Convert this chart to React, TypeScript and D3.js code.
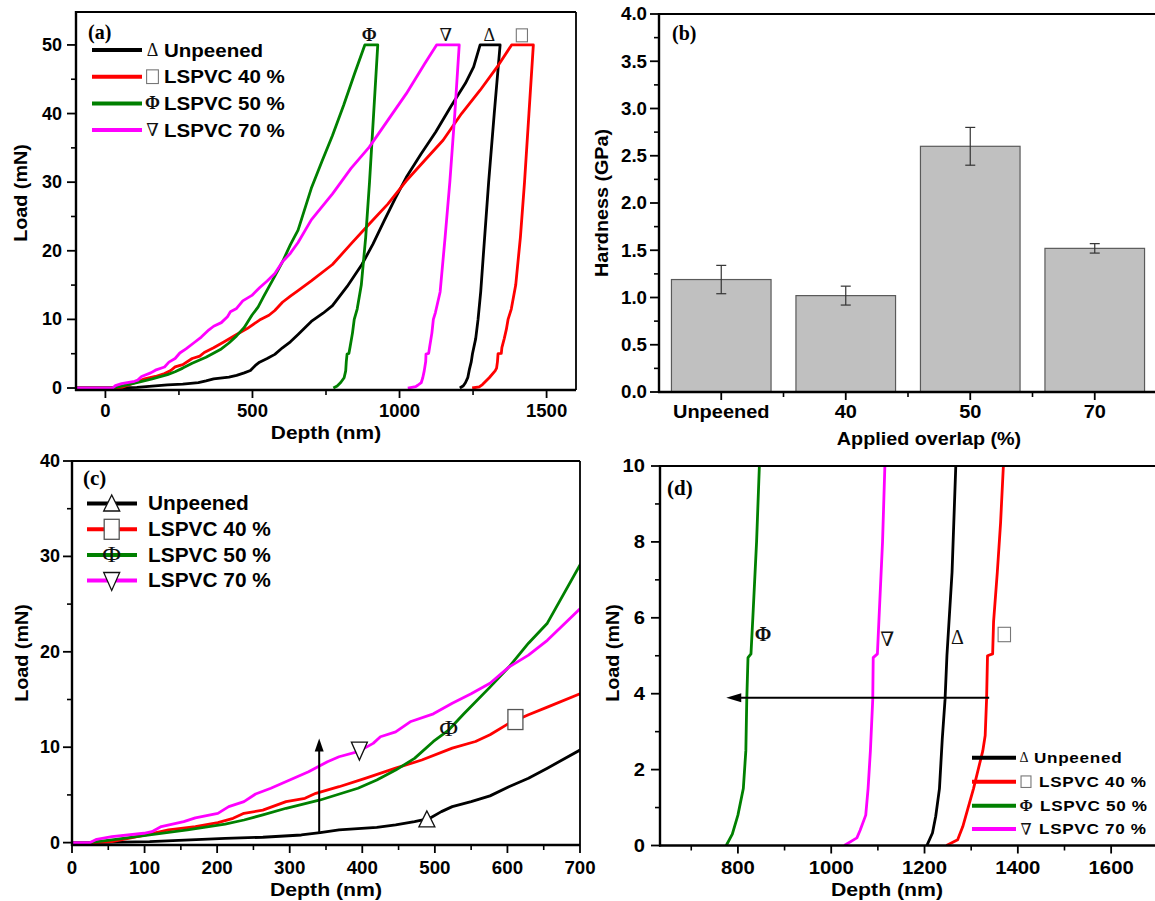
import React from 'react';
import * as d3 from 'd3';

type Pt = [number, number];

// Load–depth indentation curves: [depth (nm), load (mN)]
const unpeenedLoading: Pt[] = [[-100,0],[29,0],[107,0.1],[211,0.45],[263,0.56],[316,0.8],[342,1.05],[368,1.33],[420,1.6],[446,1.85],[472,2.2],[493,2.55],[509,3.25],[524,3.77],[550,4.3],[576,4.9],[602,5.86],[629,6.74],[655,7.8],[700,9.7],[740,10.9],[772,12.0],[822,14.8],[872,18.0],[910,21.0],[948,24.4],[985,27.6],[1023,30.7],[1073,34.1],[1123,37.3],[1174,41.0],[1224,44.4],[1252,46.8],[1274,50],[1342,50]];
const unpeenedUnloading: Pt[] = [[1342,50],[1322,40],[1303,30],[1286,20],[1276,14],[1267,10],[1259,7.2],[1248,5.0],[1244,3.85],[1238,2.8],[1232,1.5],[1224,0.77],[1217,0.33],[1205,0]];

const lspvc40Loading: Pt[] = [[-100,0],[25,0],[55,0.1],[102,0.8],[133,1.33],[170,1.68],[201,2.1],[222,2.55],[237,3.07],[263,3.4],[295,4.3],[321,4.64],[336,5.17],[368,5.86],[404,6.74],[446,7.8],[482,8.66],[524,9.9],[556,10.6],[576,11.3],[602,12.5],[629,13.4],[655,14.2],[700,15.6],[772,18.0],[835,21.0],[897,23.9],[960,26.8],[1023,30.2],[1086,33.2],[1148,36.1],[1211,40.0],[1274,43.4],[1337,47.1],[1381,50],[1455,50]];
const lspvc40Unloading: Pt[] = [[1455,50],[1440,40],[1425,30],[1411,22],[1395,15],[1380,11.5],[1369,10],[1363,8.5],[1356,7.2],[1348,5.9],[1346,5.05],[1335,5.0],[1333,3.85],[1330,2.9],[1325,2.5],[1305,1.5],[1282,0.5],[1271,0.15],[1247,0]];

const lspvc50Loading: Pt[] = [[-100,0],[23,0],[55,0.28],[107,0.8],[159,1.33],[211,1.95],[237,2.37],[263,2.9],[295,3.6],[342,4.47],[394,5.7],[420,6.56],[446,7.6],[472,8.83],[498,10.6],[519,11.8],[540,13.5],[576,16.3],[602,18.4],[629,20.9],[655,23.0],[700,29.1],[736,33.0],[772,36.8],[810,41.2],[847,45.8],[882,50],[926,50]];
const lspvc50Unloading: Pt[] = [[926,50],[912,40],[898,30],[885,22],[870,15],[856,11.5],[846,10],[840,8],[832,6],[828,5.05],[821.6,4.95],[819,3.85],[817,2.5],[811.6,1.5],[800,0.8],[788,0.3],[775,0]];

const lspvc70Loading: Pt[] = [[-100,0],[25,0],[34,0.35],[55,0.63],[99,0.98],[110,1.15],[123,1.68],[154,2.2],[170,2.6],[201,3.07],[216,3.77],[237,4.3],[253,5.1],[274,5.7],[300,6.56],[326,7.43],[352,8.48],[368,9.0],[394,9.53],[415,10.4],[425,11.1],[446,11.6],[467,12.7],[498,13.5],[524,14.6],[550,15.6],[576,16.7],[602,18.4],[629,19.65],[655,21.2],[700,24.5],[772,28.3],[835,32.0],[897,35.1],[960,39.0],[1023,42.9],[1086,47.3],[1126,50],[1203,50]];
const lspvc70Unloading: Pt[] = [[1203,50],[1188,40],[1171,30],[1155,22],[1138,14],[1122,11],[1115,10],[1110,8],[1102.5,6],[1099,5.05],[1090,4.95],[1089,3.85],[1084,2.5],[1079,1.5],[1074,0.8],[1062,0.4],[1055,0.2],[1028,0]];

const seriesNames = ['Unpeened', 'LSPVC 40 %', 'LSPVC 50 %', 'LSPVC 70 %'];
const seriesColors = ['#000000', '#ff0000', '#008000', '#ff00ff'];
const seriesKinds = ['up', 'square', 'phi', 'down'];
const loadingCurves = [unpeenedLoading, lspvc40Loading, lspvc50Loading, lspvc70Loading];
const unloadingCurves = [unpeenedUnloading, lspvc40Unloading, lspvc50Unloading, lspvc70Unloading];

// Symbol annotations in data units
const peakSymbolDepths = [1305, 1416, 897, 1157];
const peakSymbolLoad = 51.4;
const cMarkerPoints: Pt[] = [[489, 2.44], [611, 12.9], [519, 11.9], [396, 9.7]];
const dMarkerPoints: Pt[] = [[1270.7, 5.5], [1371, 5.56], [854, 5.56], [1120, 5.43]];
const cArrowDepth = 340.6;
const cArrowLoads = [0.98, 10.9];
const dArrowLoad = 3.89;
const dArrowDepths = [1338.6, 775];

// Hardness bars
const overlapCategories = ['Unpeened', '40', '50', '70'];
const hardness = [1.19, 1.02, 2.6, 1.52];
const hardnessErr = [0.15, 0.1, 0.2, 0.05];

// Ticks
const aTicksX = [0, 500, 1000, 1500];
const aMinorX = [250, 750, 1250];
const aTicksY = [0, 10, 20, 30, 40, 50];
const aMinorY = [5, 15, 25, 35, 45];
const bTicksY = [0, 0.5, 1, 1.5, 2, 2.5, 3, 3.5, 4];
const bMinorY = [0.25, 0.75, 1.25, 1.75, 2.25, 2.75, 3.25, 3.75];
const cTicksX = [0, 100, 200, 300, 400, 500, 600, 700];
const cMinorX = [50, 150, 250, 350, 450, 550, 650];
const cTicksY = [0, 10, 20, 30, 40];
const cMinorY = [5, 15, 25, 35];
const dTicksX = [800, 1000, 1200, 1400, 1600];
const dMinorX = [700, 900, 1100, 1300, 1500];
const dTicksY = [0, 2, 4, 6, 8, 10];
const dMinorY = [1, 3, 5, 7, 9];

const SANS = 'Liberation Sans, Arial, Helvetica, sans-serif';
const SERIF = 'Liberation Serif, Times New Roman, DejaVu Serif, serif';

type TxtProps = {
  x: number; y: number; children: React.ReactNode; size?: number; sx?: number;
  anchor?: 'start' | 'middle' | 'end'; weight?: string | number; family?: string;
  rotate?: number; fill?: string; ls?: number;
};
function Txt({ x, y, children, size = 18, sx = 1, anchor = 'middle', weight = 'bold', family = SANS, rotate = 0, fill = '#000', ls = 0 }: TxtProps) {
  return (
    <g transform={`translate(${x},${y}) rotate(${rotate}) scale(${sx},1)`}>
      <text x={0} y={0} textAnchor={anchor} dominantBaseline="central" fontSize={size}
        fontWeight={weight} fontFamily={family} fill={fill} letterSpacing={ls}>{children}</text>
    </g>
  );
}

type Scale = (v: number) => number;

function AxisLeft({ x, scale, ticks, minor, labelX, fmt = (v: number) => String(v), sx = 1, size = 18 }:
  { x: number; scale: Scale; ticks: number[]; minor: number[]; labelX: number; fmt?: (v: number) => string; sx?: number; size?: number }) {
  return (
    <g>
      {ticks.map((t) => <line key={'M' + t} x1={x - 9} x2={x} y1={scale(t)} y2={scale(t)} stroke="#000" strokeWidth={1.8} />)}
      {minor.map((t) => <line key={'m' + t} x1={x - 5} x2={x} y1={scale(t)} y2={scale(t)} stroke="#000" strokeWidth={1.6} />)}
      {ticks.map((t) => <Txt key={'L' + t} x={labelX} y={scale(t)} anchor="end" sx={sx} size={size}>{fmt(t)}</Txt>)}
    </g>
  );
}

function AxisBottom({ y, scale, ticks, minor, labelY, fmt = (v: number) => String(v), sx = 1, size = 18 }:
  { y: number; scale: Scale; ticks: number[]; minor: number[]; labelY: number; fmt?: (v: number) => string; sx?: number; size?: number }) {
  return (
    <g>
      {ticks.map((t) => <line key={'M' + t} y1={y} y2={y + 8} x1={scale(t)} x2={scale(t)} stroke="#000" strokeWidth={1.8} />)}
      {minor.map((t) => <line key={'m' + t} y1={y} y2={y + 5} x1={scale(t)} x2={scale(t)} stroke="#000" strokeWidth={1.6} />)}
      {ticks.map((t) => <Txt key={'L' + t} x={scale(t)} y={labelY} sx={sx} size={size}>{fmt(t)}</Txt>)}
    </g>
  );
}

function Frame({ l, t, r, b }: { l: number; t: number; r: number; b: number }) {
  return (
    <g fill="none" stroke="#000">
      <line x1={l} x2={r} y1={t} y2={t} strokeWidth={1.8} />
      <line x1={r} x2={r} y1={t} y2={b} strokeWidth={1.8} />
      <line x1={l} x2={l} y1={t - 1} y2={b + 1} strokeWidth={2.4} />
      <line x1={l - 1} x2={r} y1={b} y2={b} strokeWidth={2.4} />
    </g>
  );
}

// Open marker used in the (c) legend and on the (c) curves
function Marker({ kind, cx, cy, s = 1 }: { kind: string; cx: number; cy: number; s?: number }) {
  if (kind === 'up') {
    return <polygon points={`${cx},${cy - 8.5 * s} ${cx - 8 * s},${cy + 7.5 * s} ${cx + 8 * s},${cy + 7.5 * s}`} fill="#fff" stroke="#111" strokeWidth={1.3} />;
  }
  if (kind === 'down') {
    return <polygon points={`${cx - 8 * s},${cy - 8 * s} ${cx + 8 * s},${cy - 8 * s} ${cx},${cy + 10 * s}`} fill="#fff" stroke="#111" strokeWidth={1.3} />;
  }
  if (kind === 'square') {
    return <rect x={cx - 7.5 * s} y={cy - 10 * s} width={15 * s} height={20 * s} fill="#fff" stroke="#555" strokeWidth={1.3} />;
  }
  return <Txt x={cx} y={cy - 1} size={23 * s} sx={1.12} weight="normal" family={SERIF} fill="#111">Φ</Txt>;
}

// Glyph-style symbol used in (a) and (d)
function Glyph({ kind, cx, cy, size, bold = false }: { kind: string; cx: number; cy: number; size: number; bold?: boolean }) {
  if (kind === 'square') {
    const w = size * 0.62, h = size * 0.72;
    return <rect x={cx - w / 2} y={cy - h / 2} width={w} height={h} fill="none" stroke="#777" strokeWidth={1.1} />;
  }
  const ch = kind === 'up' ? 'Δ' : kind === 'down' ? '∇' : 'Φ';
  return <Txt x={cx} y={cy} size={size} weight={bold ? 'bold' : 'normal'} family={SERIF} fill="#111">{ch}</Txt>;
}

export default function App() {
  // Panel (a)
  const xA = d3.scaleLinear().domain([-100, 1600]).range([76, 576]);
  const yA = d3.scaleLinear().domain([-0.29, 54.8]).range([390, 12]);
  // Panel (b)
  const xB = d3.scaleBand<string>().domain(overlapCategories).range([659, 1157]).paddingInner(0.2).paddingOuter(0.1);
  const yB = d3.scaleLinear().domain([0, 4]).range([392, 14]);
  // Panel (c)
  const xC = d3.scaleLinear().domain([0, 700]).range([72, 580]);
  const yC = d3.scaleLinear().domain([-0.25, 40]).range([845, 461]);
  // Panel (d)
  const xD = d3.scaleLinear().domain([633, 1700]).range([660, 1157.8]);
  const yD = d3.scaleLinear().domain([0, 10]).range([845.5, 466]);

  const lineA = d3.line<Pt>().x((d) => xA(d[0])).y((d) => yA(d[1]));
  const lineC = d3.line<Pt>().x((d) => xC(d[0])).y((d) => yC(d[1]));
  const lineD = d3.line<Pt>().x((d) => xD(d[0])).y((d) => yD(d[1]));

  const fullCurves = loadingCurves.map((l, i) => l.concat(unloadingCurves[i].slice(1)));

  const step = xB.step();
  const bw = xB.bandwidth();

  return (
    <svg width={1155} height={901} viewBox="0 0 1155 901" style={{ position: 'absolute', left: 0, top: 0, background: '#fff' }}>
      <defs>
        <clipPath id="clipA"><rect x={76} y={12} width={500} height={378} /></clipPath>
        <clipPath id="clipC"><rect x={72} y={461} width={508} height={384} /></clipPath>
        <clipPath id="clipD"><rect x={660} y={466} width={500} height={380} /></clipPath>
      </defs>
      <rect x={0} y={0} width={1155} height={901} fill="#fff" />

      {/* ---------- (a) full load–unload curves ---------- */}
      <g clipPath="url(#clipA)">
        {fullCurves.map((c, i) => (
          <path key={i} d={lineA(c) || ''} fill="none" stroke={seriesColors[i]} strokeWidth={2.8} strokeLinejoin="round" />
        ))}
      </g>
      <Frame l={76} t={12} r={576} b={390} />
      <AxisLeft x={76} scale={yA} ticks={aTicksY} minor={aMinorY} labelX={62} />
      <AxisBottom y={390} scale={xA} ticks={aTicksX} minor={aMinorX} labelY={411} sx={1.03} />
      <Txt x={20} y={193} rotate={-90} size={19} sx={1.04}>Load (mN)</Txt>
      <Txt x={326} y={432} size={19} sx={1.1}>Depth (nm)</Txt>
      <Txt x={88} y={32} anchor="start" size={20} family={SERIF}>(a)</Txt>
      {peakSymbolDepths.map((d, i) => (
        <Glyph key={i} kind={seriesKinds[i]} cx={xA(d)} cy={yA(peakSymbolLoad)} size={18} bold={seriesKinds[i] === 'phi'} />
      ))}
      {seriesNames.map((n, i) => {
        const y = 50 + i * 26.7;
        return (
          <g key={n}>
            <line x1={92} x2={142} y1={y} y2={y} stroke={seriesColors[i]} strokeWidth={4} />
            <Glyph kind={seriesKinds[i]} cx={152.5} cy={y} size={seriesKinds[i] === 'square' ? 19 : 18} bold={seriesKinds[i] === 'phi'} />
            <Txt x={164} y={y} anchor="start" size={19} sx={1.08}>{n}</Txt>
          </g>
        );
      })}

      {/* ---------- (b) hardness bars ---------- */}
      {overlapCategories.map((c, i) => {
        const x0 = xB(c) as number;
        const cx = x0 + bw / 2;
        const top = yB(hardness[i] + hardnessErr[i]);
        const bot = yB(hardness[i] - hardnessErr[i]);
        return (
          <g key={c}>
            <rect x={x0} y={yB(hardness[i])} width={bw} height={yB(0) - yB(hardness[i])} fill="#c0c0c0" stroke="#5a5a5a" strokeWidth={1.2} />
            <line x1={cx} x2={cx} y1={top} y2={bot} stroke="#333" strokeWidth={1.2} />
            <line x1={cx - 5} x2={cx + 5} y1={top} y2={top} stroke="#333" strokeWidth={1.2} />
            <line x1={cx - 5} x2={cx + 5} y1={bot} y2={bot} stroke="#333" strokeWidth={1.2} />
          </g>
        );
      })}
      <Frame l={659} t={14} r={1158} b={392} />
      <AxisLeft x={659} scale={yB} ticks={bTicksY} minor={bMinorY} labelX={647} fmt={d3.format('.1f')} sx={1.04} />
      {overlapCategories.map((c, i) => {
        const cx = (xB(c) as number) + bw / 2;
        return (
          <g key={c}>
            <line x1={cx} x2={cx} y1={392} y2={400} stroke="#000" strokeWidth={1.8} />
            {i < overlapCategories.length - 1 && (
              <line x1={cx + step / 2} x2={cx + step / 2} y1={392} y2={397} stroke="#000" strokeWidth={1.6} />
            )}
            <Txt x={cx} y={412} size={18.5} sx={1.08}>{c}</Txt>
          </g>
        );
      })}
      <Txt x={601} y={203} rotate={-90} size={19} sx={1.04}>Hardness (GPa)</Txt>
      <Txt x={929} y={438} size={19} sx={1.04}>Applied overlap (%)</Txt>
      <Txt x={672} y={33} anchor="start" size={20} family={SERIF}>(b)</Txt>

      {/* ---------- (c) loading segments, shallow depth ---------- */}
      <g clipPath="url(#clipC)">
        {loadingCurves.map((c, i) => (
          <path key={i} d={lineC(c) || ''} fill="none" stroke={seriesColors[i]} strokeWidth={2.8} strokeLinejoin="round" />
        ))}
      </g>
      <line x1={xC(cArrowDepth)} x2={xC(cArrowDepth)} y1={yC(cArrowLoads[0])} y2={yC(cArrowLoads[1]) + 10} stroke="#000" strokeWidth={2} />
      <polygon points={`${xC(cArrowDepth)},${yC(cArrowLoads[1])} ${xC(cArrowDepth) - 4.5},${yC(cArrowLoads[1]) + 13} ${xC(cArrowDepth) + 4.5},${yC(cArrowLoads[1]) + 13}`} fill="#000" />
      {cMarkerPoints.map((p, i) => (
        <Marker key={i} kind={seriesKinds[i]} cx={xC(p[0])} cy={yC(p[1])} />
      ))}
      <Frame l={72} t={461} r={580} b={845} />
      <AxisLeft x={72} scale={yC} ticks={cTicksY} minor={cMinorY} labelX={60} />
      <AxisBottom y={845} scale={xC} ticks={cTicksX} minor={cMinorX} labelY={868} sx={1.04} />
      <Txt x={21} y={653} rotate={-90} size={19} sx={1.04}>Load (mN)</Txt>
      <Txt x={326} y={889} size={19} sx={1.12}>Depth (nm)</Txt>
      <Txt x={83} y={478} anchor="start" size={21} family={SERIF}>(c)</Txt>
      {seriesNames.map((n, i) => {
        const y = [503.5, 529.3, 555, 580.5][i];
        return (
          <g key={n}>
            <line x1={87} x2={137} y1={y} y2={y} stroke={seriesColors[i]} strokeWidth={4} />
            <Marker kind={seriesKinds[i]} cx={111.7} cy={y} />
            <Txt x={148} y={y} anchor="start" size={19.5} sx={1.07}>{n}</Txt>
          </g>
        );
      })}

      {/* ---------- (d) unloading segments, low load ---------- */}
      <g clipPath="url(#clipD)">
        {unloadingCurves.map((c, i) => (
          <path key={i} d={lineD(c) || ''} fill="none" stroke={seriesColors[i]} strokeWidth={2.8} strokeLinejoin="round" />
        ))}
      </g>
      <line x1={xD(dArrowDepths[0])} x2={xD(dArrowDepths[1]) + 12} y1={yD(dArrowLoad)} y2={yD(dArrowLoad)} stroke="#000" strokeWidth={2} />
      <polygon points={`${xD(dArrowDepths[1])},${yD(dArrowLoad)} ${xD(dArrowDepths[1]) + 15},${yD(dArrowLoad) - 4.5} ${xD(dArrowDepths[1]) + 15},${yD(dArrowLoad) + 4.5}`} fill="#000" />
      {dMarkerPoints.map((p, i) => (
        <Glyph key={i} kind={seriesKinds[i]} cx={xD(p[0])} cy={yD(p[1])} size={20} bold={seriesKinds[i] === 'phi'} />
      ))}
      <Frame l={660} t={466} r={1158} b={845.5} />
      <AxisLeft x={660} scale={yD} ticks={dTicksY} minor={dMinorY} labelX={645} sx={1.12} />
      <AxisBottom y={845.5} scale={xD} ticks={dTicksX} minor={dMinorX} labelY={868} sx={1.16} size={17.5} />
      <Txt x={612} y={653} rotate={-90} size={19} sx={1.04}>Load (mN)</Txt>
      <Txt x={887} y={889} size={19} sx={1.12}>Depth (nm)</Txt>
      <Txt x={667} y={488} anchor="start" size={21} family={SERIF}>(d)</Txt>
      {seriesNames.map((n, i) => {
        const y = [757.7, 781.7, 805.7, 829][i];
        const textStart = [1034, 1039, 1040, 1039][i];
        return (
          <g key={n}>
            <line x1={972} x2={1016} y1={y} y2={y} stroke={seriesColors[i]} strokeWidth={4} />
            <Glyph kind={seriesKinds[i]} cx={seriesKinds[i] === 'up' ? 1024 : 1026} cy={y} size={seriesKinds[i] === 'up' ? 14 : 16} bold={seriesKinds[i] === 'phi'} />
            <Txt x={textStart} y={y} anchor="start" size={14.5} sx={1.18} ls={0.6}>{n}</Txt>
          </g>
        );
      })}
    </svg>
  );
}
